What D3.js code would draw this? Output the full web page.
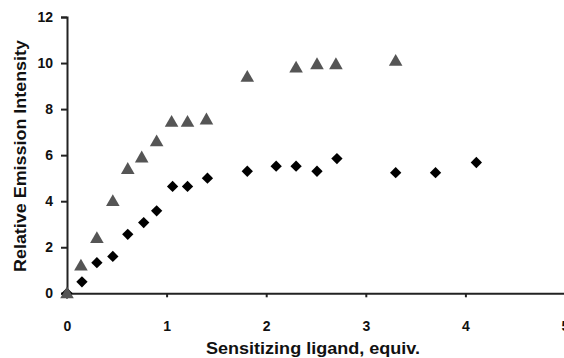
<!DOCTYPE html>
<html>
<head>
<meta charset="utf-8">
<script src="https://cdn.jsdelivr.net/npm/d3@7"></script>
<style>
  body { margin: 0; background: #fff; }
  svg text { font-family: "Liberation Sans", Arial, sans-serif; font-weight: bold; fill: #111; }
</style>
</head>
<body>
<div id="chart"></div>
<script>
'use strict';
// data
var triX = [0, 0.14, 0.3, 0.46, 0.61, 0.75, 0.9, 1.05, 1.21, 1.4, 1.81, 2.3, 2.51, 2.7, 3.3];
var triY = [0, 1.2, 2.4, 4.0, 5.4, 5.9, 6.6, 7.45, 7.45, 7.55, 9.4, 9.8, 9.95, 9.95, 10.1];
var diaX = [0, 0.15, 0.3, 0.46, 0.61, 0.77, 0.9, 1.06, 1.21, 1.41, 1.81, 2.1, 2.3, 2.51, 2.71, 3.3, 3.7, 4.11];
var diaY = [0, 0.5, 1.33, 1.6, 2.56, 3.07, 3.58, 4.64, 4.64, 5.0, 5.3, 5.52, 5.52, 5.3, 5.85, 5.24, 5.24, 5.68];
var xTicks = [0, 1, 2, 3, 4, 5];
var yTicks = [0, 2, 4, 6, 8, 10, 12];

var width = 564,
    height = 358;
var margin = {left: 67, right: 0, top: 17, bottom: 65};

var svg = d3.select('#chart').append('svg')
    .attr('width', width)
    .attr('height', height);

var x = d3.scaleLinear().domain([0, 5]).range([margin.left, 565]);
var y = d3.scaleLinear().domain([0, 12]).range([height - margin.bottom + 0.3, margin.top]);

var xAxis = svg.append('g')
    .attr('transform', 'translate(0,' + y(0) + ')')
    .call(d3.axisBottom(x).tickValues(xTicks).tickFormat(d3.format('d')).tickSize(4).tickPadding(20));
var yAxis = svg.append('g')
    .attr('transform', 'translate(' + x(0) + ',0)')
    .call(d3.axisLeft(y).tickValues(yTicks).tickFormat(d3.format('d')).tickSize(6).tickPadding(8));

[xAxis, yAxis].forEach(function (g) {
    g.select('.domain').attr('stroke', '#222').attr('stroke-width', 2);
    g.selectAll('.tick line').attr('stroke', '#222').attr('stroke-width', 2);
    g.selectAll('.tick text').style('font-size', '14px').attr('fill', '#111');
});
xAxis.selectAll('.tick text').attr('dy', '0.95em');

var tri = d3.symbol().type(d3.symbolTriangle).size(80);
var dia = d3.symbol().type(d3.symbolSquare).size(64);

svg.append('g').selectAll('path')
    .data(diaX)
    .join('path')
    .attr('d', dia)
    .attr('fill', '#000')
    .attr('transform', function (d, i) {
        return 'translate(' + x(d) + ',' + y(diaY[i]) + ') rotate(45)';
    });

svg.append('g').selectAll('path')
    .data(triX)
    .join('path')
    .attr('d', tri)
    .attr('fill', '#555')
    .attr('transform', function (d, i) {
        return 'translate(' + x(d) + ',' + (y(triY[i]) + 1) + ')';
    });

svg.append('text')
    .attr('x', 313)
    .attr('y', 354)
    .attr('text-anchor', 'middle')
    .attr('textLength', 214)
    .attr('lengthAdjust', 'spacingAndGlyphs')
    .style('font-size', '17px')
    .text('Sensitizing ligand, equiv.');

svg.append('text')
    .attr('transform', 'translate(26,156) rotate(-90)')
    .attr('text-anchor', 'middle')
    .attr('textLength', 232)
    .attr('lengthAdjust', 'spacingAndGlyphs')
    .style('font-size', '17px')
    .text('Relative Emission Intensity');
</script>
</body>
</html>
